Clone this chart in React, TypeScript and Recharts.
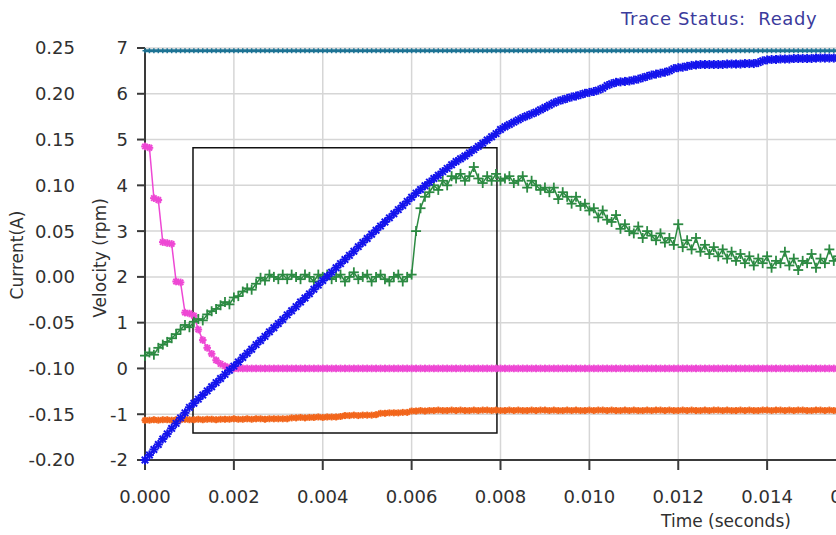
import { LineChart, Line, XAxis, YAxis, CartesianGrid, ReferenceArea } from 'recharts';

// samples every 0.1 ms, index n -> time n * 0.0001 s
const TIME_TICKS = [0, 20, 40, 60, 80, 100, 120, 140, 160];
const TIME_LABELS = ['0.000', '0.002', '0.004', '0.006', '0.008', '0.010', '0.012', '0.014', '0.016'];
const VELOCITY_TICKS = [-2, -1, 0, 1, 2, 3, 4, 5, 6, 7];
const CURRENT_TICKS = [-0.2, -0.15, -0.1, -0.05, 0, 0.05, 0.1, 0.15, 0.2, 0.25];
const CURRENT_LABELS = ['-0.20', '-0.15', '-0.10', '-0.05', '0.00', '0.05', '0.10', '0.15', '0.20', '0.25'];

// blue trace (rpm)
const VELOCITY = [
  -2.0, -1.89, -1.77, -1.66, -1.54, -1.43, -1.31, -1.2, -1.08, -0.97, -0.85,
  -0.76, -0.67, -0.58, -0.49, -0.4, -0.31, -0.22, -0.13, -0.04, 0.05,
  0.14, 0.24, 0.33, 0.42, 0.52, 0.61, 0.7, 0.8, 0.89, 0.98,
  1.07, 1.17, 1.26, 1.35, 1.45, 1.54, 1.63, 1.73, 1.82, 1.92,
  2.01, 2.1, 2.2, 2.29, 2.38, 2.47, 2.56, 2.66, 2.75, 2.84,
  2.93, 3.02, 3.11, 3.2, 3.29, 3.38, 3.47, 3.56, 3.65, 3.74,
  3.83, 3.91, 3.99, 4.07, 4.15, 4.22, 4.3, 4.37, 4.45, 4.52,
  4.58, 4.64, 4.71, 4.78, 4.85, 4.92, 4.99, 5.06, 5.13, 5.22,
  5.28, 5.33, 5.38, 5.43, 5.48, 5.52, 5.56, 5.6, 5.65, 5.7,
  5.75, 5.8, 5.84, 5.87, 5.9, 5.93, 5.95, 5.98, 6.01, 6.03,
  6.05, 6.08, 6.12, 6.18, 6.22, 6.25, 6.26, 6.27, 6.28, 6.3,
  6.32, 6.35, 6.38, 6.41, 6.43, 6.45, 6.47, 6.5, 6.55, 6.57,
  6.58, 6.6, 6.62, 6.63, 6.64, 6.64, 6.64, 6.64, 6.64, 6.64,
  6.65, 6.65, 6.65, 6.65, 6.66, 6.66, 6.66, 6.68, 6.72, 6.74,
  6.75, 6.75, 6.76, 6.76, 6.76, 6.77, 6.77, 6.77, 6.77, 6.77,
  6.78, 6.78, 6.78, 6.78, 6.78, 6.78,
];

// green trace (noisy)
const FEEDBACK = [
  0.28, 0.35, 0.3, 0.45, 0.52, 0.58, 0.66, 0.75, 0.85, 0.95, 0.9,
  1.02, 1.08, 1.05, 1.18, 1.25, 1.3, 1.38, 1.45, 1.4, 1.55,
  1.58, 1.68, 1.75, 1.72, 1.85, 1.98, 1.92, 2.05, 2.0, 1.95,
  2.05, 1.95, 2.05, 2.0, 1.95, 2.05, 2.0, 1.9, 2.05, 2.0,
  2.05, 1.95, 2.0, 2.05, 1.9, 2.0, 2.1, 1.95, 2.0, 2.05,
  1.9, 2.0, 2.05, 1.95, 1.9, 2.0, 2.05, 1.9, 2.0, 2.05,
  3.0, 3.5, 3.75, 3.85, 4.0, 3.9, 4.1, 4.0, 4.2, 4.15,
  4.25, 4.1, 4.2, 4.4, 4.15, 4.05, 4.2, 4.1, 4.25, 4.1,
  4.15, 4.2, 4.05, 4.1, 4.2, 3.95, 4.1, 4.0, 3.9, 3.95,
  3.85, 3.95, 3.7, 3.85, 3.75, 3.6, 3.75, 3.55, 3.6, 3.45,
  3.5, 3.3, 3.45, 3.25, 3.2, 3.35, 3.05, 3.15, 3.0, 2.95,
  3.1, 2.85, 3.0, 2.9, 2.8, 2.95, 2.75, 2.85, 2.7, 3.15,
  2.65, 2.8, 2.6, 2.85, 2.55, 2.7, 2.5, 2.65, 2.45, 2.6,
  2.4, 2.55, 2.35, 2.5, 2.3, 2.45, 2.25, 2.4, 2.3, 2.45,
  2.2, 2.35, 2.3, 2.55, 2.25, 2.4, 2.15, 2.35, 2.3, 2.5,
  2.2, 2.4, 2.3, 2.6, 2.35, 2.45,
];

// magenta trace
const DECAY = [
  4.85, 4.82, 3.72, 3.68, 2.76, 2.74, 2.72, 1.9, 1.88, 1.22,
  1.2, 1.15, 0.85, 0.62, 0.45, 0.32, 0.18, 0.1, 0.05, 0.02,
  0, 0, 0, 0, 0, 0, 0, 0, 0, 0, 0, 0, 0, 0, 0, 0, 0, 0, 0, 0,
  0, 0, 0, 0, 0, 0, 0, 0, 0, 0, 0, 0, 0, 0, 0, 0, 0, 0, 0, 0,
  0, 0, 0, 0, 0, 0, 0, 0, 0, 0, 0, 0, 0, 0, 0, 0, 0, 0, 0, 0,
  0, 0, 0, 0, 0, 0, 0, 0, 0, 0, 0, 0, 0, 0, 0, 0, 0, 0, 0, 0,
  0, 0, 0, 0, 0, 0, 0, 0, 0, 0, 0, 0, 0, 0, 0, 0, 0, 0, 0, 0,
  0, 0, 0, 0, 0, 0, 0, 0, 0, 0, 0, 0, 0, 0, 0, 0, 0, 0, 0, 0,
  0, 0, 0, 0, 0, 0, 0, 0, 0, 0, 0, 0, 0, 0, 0, 0, 0,
];

// orange trace
const OFFSET = [
  -1.13, -1.13, -1.12, -1.13, -1.12, -1.12, -1.13, -1.12, -1.12, -1.11, -1.12,
  -1.12, -1.11, -1.12, -1.11, -1.11, -1.12, -1.11, -1.11, -1.11, -1.1, -1.11,
  -1.11, -1.1, -1.11, -1.1, -1.1, -1.11, -1.1, -1.1, -1.1, -1.1, -1.1,
  -1.08, -1.08, -1.07, -1.08, -1.07, -1.07, -1.06, -1.07, -1.06, -1.06, -1.06, -1.05,
  -1.03, -1.03, -1.02, -1.03, -1.02, -1.02, -1.02, -1.01,
  -0.98, -0.98, -0.97, -0.97, -0.97, -0.96, -0.96,
  -0.93, -0.93, -0.92, -0.93, -0.92, -0.92, -0.91, -0.92, -0.92, -0.91,
  -0.92, -0.91, -0.92, -0.92, -0.91, -0.92, -0.91, -0.91, -0.92, -0.91,
  -0.92, -0.92, -0.91, -0.92, -0.91, -0.92, -0.92, -0.91, -0.92, -0.91,
  -0.91, -0.92, -0.91, -0.92, -0.92, -0.91, -0.92, -0.91, -0.92, -0.92,
  -0.91, -0.92, -0.91, -0.91, -0.92, -0.91, -0.92, -0.92, -0.91, -0.92,
  -0.91, -0.92, -0.92, -0.91, -0.92, -0.91, -0.91, -0.92, -0.91, -0.92,
  -0.92, -0.91, -0.92, -0.91, -0.92, -0.92, -0.91, -0.92, -0.91, -0.91,
  -0.92, -0.91, -0.92, -0.92, -0.91, -0.92, -0.91, -0.92, -0.92, -0.91,
  -0.91, -0.92, -0.91, -0.91, -0.92, -0.91, -0.92, -0.91, -0.91, -0.92,
  -0.92, -0.91, -0.91, -0.92, -0.91, -0.92, -0.92,
];

// teal trace, on the current axis (A)
const LIMIT = [
  0.247, 0.247, 0.247, 0.247, 0.247, 0.247, 0.247, 0.247, 0.247, 0.247,
  0.247, 0.247, 0.247, 0.247, 0.247, 0.247, 0.247, 0.247, 0.247, 0.247,
  0.247, 0.247, 0.247, 0.247, 0.247, 0.247, 0.247, 0.247, 0.247, 0.247,
  0.247, 0.247, 0.247, 0.247, 0.247, 0.247, 0.247, 0.247, 0.247, 0.247,
  0.247, 0.247, 0.247, 0.247, 0.247, 0.247, 0.247, 0.247, 0.247, 0.247,
  0.247, 0.247, 0.247, 0.247, 0.247, 0.247, 0.247, 0.247, 0.247, 0.247,
  0.247, 0.247, 0.247, 0.247, 0.247, 0.247, 0.247, 0.247, 0.247, 0.247,
  0.247, 0.247, 0.247, 0.247, 0.247, 0.247, 0.247, 0.247, 0.247, 0.247,
  0.247, 0.247, 0.247, 0.247, 0.247, 0.247, 0.247, 0.247, 0.247, 0.247,
  0.247, 0.247, 0.247, 0.247, 0.247, 0.247, 0.247, 0.247, 0.247, 0.247,
  0.247, 0.247, 0.247, 0.247, 0.247, 0.247, 0.247, 0.247, 0.247, 0.247,
  0.247, 0.247, 0.247, 0.247, 0.247, 0.247, 0.247, 0.247, 0.247, 0.247,
  0.247, 0.247, 0.247, 0.247, 0.247, 0.247, 0.247, 0.247, 0.247, 0.247,
  0.247, 0.247, 0.247, 0.247, 0.247, 0.247, 0.247, 0.247, 0.247, 0.247,
  0.247, 0.247, 0.247, 0.247, 0.247, 0.247, 0.247, 0.247, 0.247, 0.247,
  0.247, 0.247, 0.247, 0.247, 0.247, 0.247, 0.247,
];

// zoom box drawn on the trace (sample index / rpm)
const ZOOM_BOX = { x1: 10.8, x2: 79.2, y1: -1.41, y2: 4.82 };

const FONT = 'DejaVu Sans';
const TEXT = '#303030';
const AXIS = '#3a3a3a';
// axis ids: velocity sits next to the plot, current outside it
const RPM = 'a-rpm';
const AMP = 'b-amp';

const rows = VELOCITY.map((v, n) => ({
  n,
  velocity: v,
  feedback: FEEDBACK[n],
  decay: DECAY[n],
  offset: OFFSET[n],
  limit: LIMIT[n],
}));

const asterisk = (color: string, r: number, w: number) => (p: any) => {
  const { cx, cy, index } = p;
  if (cx == null || cy == null) return <g key={`a-${index}`} />;
  const d = r * 0.72;
  return (
    <g key={`a-${index}`} stroke={color} strokeWidth={w}>
      <line x1={cx - r} y1={cy} x2={cx + r} y2={cy} />
      <line x1={cx} y1={cy - r} x2={cx} y2={cy + r} />
      <line x1={cx - d} y1={cy - d} x2={cx + d} y2={cy + d} />
      <line x1={cx - d} y1={cy + d} x2={cx + d} y2={cy - d} />
    </g>
  );
};

const plus = (color: string, r: number, w: number) => (p: any) => {
  const { cx, cy, index } = p;
  if (cx == null || cy == null) return <g key={`p-${index}`} />;
  return (
    <g key={`p-${index}`} stroke={color} strokeWidth={w}>
      <line x1={cx - r} y1={cy} x2={cx + r} y2={cy} />
      <line x1={cx} y1={cy - r} x2={cx} y2={cy + r} />
    </g>
  );
};

const rotatedLabel = (text: string, dx: number, dy: number) => (props: any) => {
  const { viewBox } = props;
  const cx = viewBox.x + dx;
  const cy = viewBox.y + viewBox.height / 2 + dy;
  return (
    <text
      x={cx}
      y={cy}
      transform={`rotate(-90 ${cx} ${cy})`}
      textAnchor='middle'
      dominantBaseline='central'
      fill={TEXT}
      fontSize={17}
      fontFamily={FONT}
    >
      {text}
    </text>
  );
};

const timeLabel = (props: any) => {
  const { viewBox } = props;
  return (
    <text
      x={viewBox.x + 581}
      y={viewBox.y + 67}
      textAnchor='middle'
      fill={TEXT}
      fontSize={17}
      fontFamily={FONT}
    >
      Time (seconds)
    </text>
  );
};

const tickStyle = { fill: TEXT, fontSize: 18, fontFamily: FONT };

export default function App() {
  return (
    <div
      style={{
        position: 'absolute',
        left: 0,
        top: 0,
        width: 836,
        height: 535,
        overflow: 'hidden',
        background: '#fff',
      }}
    >
      <svg width={836} height={40} style={{ position: 'absolute', left: 0, top: 0 }}>
        <text
          x={621}
          y={25}
          fill='#3b3b9c'
          fontSize={18}
          letterSpacing={0.6}
          fontFamily={FONT}
          xmlSpace='preserve'
        >
          {'Trace Status:\u00a0 Ready'}
        </text>
      </svg>
      <LineChart
        width={900}
        height={535}
        data={rows}
        margin={{ top: 48, right: 44, left: 1, bottom: 0 }}
      >
        <CartesianGrid yAxisId={RPM} stroke='#d6d6d6' strokeWidth={1.5} />
        <XAxis
          dataKey='n'
          type='number'
          domain={[0, 160]}
          ticks={TIME_TICKS}
          interval={0}
          tickFormatter={(v: number) => TIME_LABELS[TIME_TICKS.indexOf(v)]}
          height={75}
          tickSize={10}
          tickMargin={20}
          axisLine={{ stroke: AXIS, strokeWidth: 2 }}
          tickLine={{ stroke: AXIS, strokeWidth: 2 }}
          tick={tickStyle}
          label={{ content: timeLabel }}
        />
        <YAxis
          yAxisId={RPM}
          type='number'
          domain={[-2, 7]}
          ticks={VELOCITY_TICKS}
          interval={0}
          width={70}
          tickSize={8}
          tickMargin={9}
          axisLine={{ stroke: AXIS, strokeWidth: 2 }}
          tickLine={{ stroke: AXIS, strokeWidth: 2 }}
          tick={tickStyle}
          label={{ content: rotatedLabel('Velocity (rpm)', 25, 4) }}
        />
        <YAxis
          yAxisId={AMP}
          type='number'
          domain={[-0.2, 0.25]}
          ticks={CURRENT_TICKS}
          interval={0}
          width={74}
          tickSize={0}
          tickMargin={0}
          tickFormatter={(v: number) => CURRENT_LABELS[CURRENT_TICKS.indexOf(v)]}
          axisLine={false}
          tickLine={false}
          tick={tickStyle}
          label={{ content: rotatedLabel('Current(A)', 16, 1) }}
        />
        <ReferenceArea
          yAxisId={RPM}
          x1={ZOOM_BOX.x1}
          x2={ZOOM_BOX.x2}
          y1={ZOOM_BOX.y1}
          y2={ZOOM_BOX.y2}
          fill='none'
          fillOpacity={0}
          stroke='#111'
          strokeWidth={1.5}
        />
        <Line
          yAxisId={AMP}
          dataKey='limit'
          stroke='#1d7394'
          strokeWidth={3}
          dot={plus('#1d7394', 2.5, 1.5)}
          activeDot={false}
          isAnimationActive={false}
        />
        <Line
          yAxisId={RPM}
          dataKey='offset'
          stroke='#f2661c'
          strokeWidth={1.5}
          dot={asterisk('#f2661c', 3.5, 2)}
          activeDot={false}
          isAnimationActive={false}
        />
        <Line
          yAxisId={RPM}
          dataKey='decay'
          stroke='#ee48d4'
          strokeWidth={1.5}
          dot={asterisk('#ee48d4', 3.8, 2)}
          activeDot={false}
          isAnimationActive={false}
        />
        <Line
          yAxisId={RPM}
          dataKey='feedback'
          stroke='#2c8a42'
          strokeWidth={1.5}
          dot={plus('#2c8a42', 5, 1.8)}
          activeDot={false}
          isAnimationActive={false}
        />
        <Line
          yAxisId={RPM}
          dataKey='velocity'
          stroke='#1414ec'
          strokeWidth={1.5}
          dot={asterisk('#1414ec', 4.5, 2)}
          activeDot={false}
          isAnimationActive={false}
        />
      </LineChart>
    </div>
  );
}
